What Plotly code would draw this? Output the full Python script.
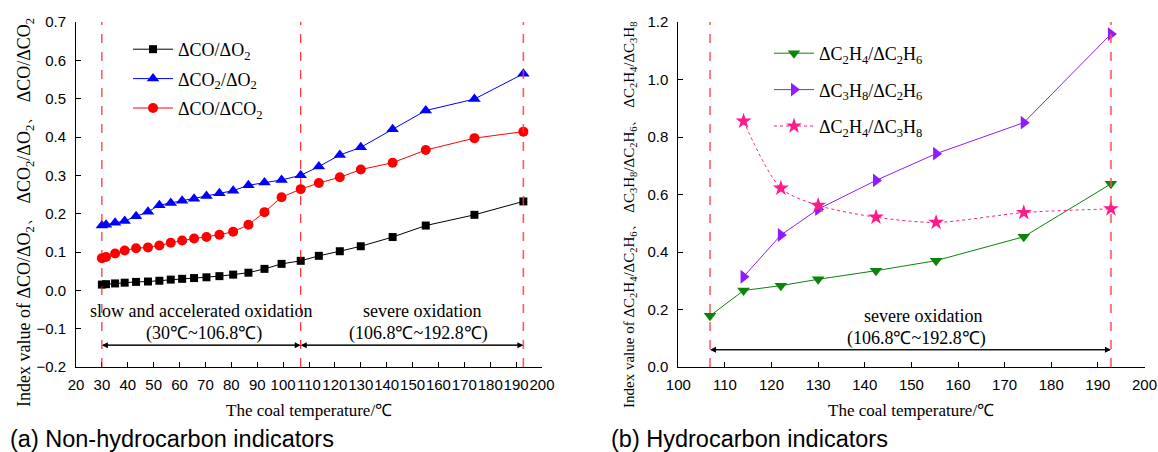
import plotly.graph_objects as go

# ---- data: (a) non-hydrocarbon indicators ----
temp_a = [30.0, 31.6, 35.1, 38.8, 43.2, 47.8, 52.2, 56.6, 61.0, 65.6, 70.4, 75.4,
          80.7, 86.6, 92.8, 99.4, 106.8, 113.8, 121.9, 130.0, 142.3, 155.1, 173.9, 192.8]
co_o2 = [0.015, 0.016, 0.018, 0.020, 0.022, 0.023, 0.025, 0.028, 0.030, 0.032, 0.034, 0.037,
         0.041, 0.046, 0.056, 0.069, 0.077, 0.090, 0.102, 0.115, 0.139, 0.169, 0.197, 0.232]
co2_o2 = [0.169, 0.171, 0.176, 0.181, 0.193, 0.205, 0.222, 0.228, 0.234, 0.239, 0.246, 0.253,
          0.260, 0.274, 0.281, 0.288, 0.300, 0.323, 0.353, 0.373, 0.420, 0.469, 0.499, 0.565]
co_co2 = [0.084, 0.087, 0.096, 0.104, 0.110, 0.112, 0.117, 0.124, 0.130, 0.135, 0.139, 0.145,
          0.153, 0.171, 0.204, 0.243, 0.264, 0.280, 0.295, 0.315, 0.333, 0.366, 0.397, 0.414]

# ---- data: (b) hydrocarbon indicators ----
temp_b = [106.8, 114.0, 122.0, 130.0, 142.4, 155.3, 174.1, 192.8]
c2h4_c2h6 = [0.178, 0.266, 0.283, 0.305, 0.335, 0.370, 0.453, 0.637]
c3h8_c2h6 = [None, 0.314, 0.459, 0.549, 0.649, 0.742, 0.850, 1.158]
c2h4_c3h8 = [None, 0.855, 0.622, 0.562, 0.521, 0.503, 0.537, 0.550]

# stage boundaries (temperatures, °C)
stage_a = [30.0, 106.8, 192.8]
stage_b = [106.8, 192.8]

W, H = 1158, 452
SERIF = "Liberation Serif, Times New Roman, serif"
SANS = "Liberation Sans, Arial, sans-serif"


def px_x(p):
    return p / W


def px_y(p):
    return 1 - p / H


dom_ya = [px_y(367), px_y(22)]
dom_xa = [px_x(76), px_x(542)]
dom_xb = [px_x(678.3), px_x(1144.5)]

fig = go.Figure()

# (a) traces
fig.add_trace(go.Scatter(
    x=temp_a, y=co_o2, mode="lines+markers", name="ΔCO/ΔO<sub>2</sub>",
    line=dict(color="black", width=1), marker=dict(symbol="square", size=8, color="black"),
    xaxis="x", yaxis="y", legend="legend", legendgroup="a1"))
fig.add_trace(go.Scatter(
    x=temp_a, y=co2_o2, mode="lines+markers", name="ΔCO<sub>2</sub>/ΔO<sub>2</sub>",
    line=dict(color="#0000ff", width=1), marker=dict(symbol="triangle-up", size=11, color="#0000ff"),
    xaxis="x", yaxis="y", legend="legend", legendgroup="a2"))
fig.add_trace(go.Scatter(
    x=temp_a, y=co_co2, mode="lines+markers", name="ΔCO/ΔCO<sub>2</sub>",
    line=dict(color="#ff0000", width=1), marker=dict(symbol="circle", size=10, color="#ff0000"),
    xaxis="x", yaxis="y", legend="legend", legendgroup="a3"))

# (b) traces
fig.add_trace(go.Scatter(
    x=temp_b, y=c2h4_c2h6, mode="lines+markers", name="ΔC<sub>2</sub>H<sub>4</sub>/ΔC<sub>2</sub>H<sub>6</sub>",
    line=dict(color="#0b840b", width=1), marker=dict(symbol="triangle-down", size=11, color="#0b840b"),
    xaxis="x2", yaxis="y2", legend="legend2", legendgroup="b1"))
fig.add_trace(go.Scatter(
    x=temp_b, y=c3h8_c2h6, mode="lines+markers", name="ΔC<sub>3</sub>H<sub>8</sub>/ΔC<sub>2</sub>H<sub>6</sub>",
    line=dict(color="#8f1cff", width=1), marker=dict(symbol="triangle-right", size=12, color="#8f1cff"),
    xaxis="x2", yaxis="y2", legend="legend2", legendgroup="b2"))
fig.add_trace(go.Scatter(
    x=temp_b, y=c2h4_c3h8, mode="lines+markers", name="ΔC<sub>2</sub>H<sub>4</sub>/ΔC<sub>3</sub>H<sub>8</sub>",
    line=dict(color="#ff1a8c", width=1, dash="dot", shape="spline", smoothing=0.8),
    marker=dict(symbol="star", size=12, color="#ff1a8c"),
    xaxis="x2", yaxis="y2", legend="legend2", legendgroup="b3"))

tickfont = dict(family=SANS, size=15, color="black")
base_axis = dict(showline=True, linecolor="black", linewidth=1, ticks="inside", ticklen=5,
                 tickcolor="black", showgrid=False, zeroline=False, tickfont=tickfont,
                 automargin=False, tickangle=0)
mirror_axis = dict(showline=True, linecolor="black", linewidth=1, ticks="inside", ticklen=4,
                   tickcolor="black", showgrid=False, zeroline=False, showticklabels=False,
                   automargin=False)

fig.update_layout(
    width=W, height=H, margin=dict(l=0, r=0, t=0, b=0),
    paper_bgcolor="white", plot_bgcolor="white", showlegend=True,
    xaxis=dict(base_axis, domain=dom_xa, range=[20, 200], dtick=10, tick0=20, anchor="y",
               ticklabelstandoff=4),
    yaxis=dict(base_axis, domain=dom_ya, range=[-0.2, 0.7], dtick=0.1, tickformat=".1f", anchor="x",
               ticklabelstandoff=6),
    xaxis3=dict(mirror_axis, overlaying="x", matches="x", side="top", anchor="y", dtick=5, tick0=20),
    yaxis3=dict(mirror_axis, overlaying="y", matches="y", side="right", anchor="x", dtick=0.05),
    xaxis2=dict(base_axis, domain=dom_xb, range=[100, 200], dtick=10, tick0=100, anchor="y2",
                ticklabelstandoff=4),
    yaxis2=dict(base_axis, domain=dom_ya, range=[0, 1.2], dtick=0.2, tickformat=".1f", anchor="x2",
                ticklabelstandoff=6),
    xaxis4=dict(mirror_axis, overlaying="x2", matches="x2", side="top", anchor="y2", dtick=5, tick0=100),
    yaxis4=dict(mirror_axis, overlaying="y2", matches="y2", side="right", anchor="x2", dtick=0.1),
    legend=dict(x=px_x(128), y=px_y(31), xanchor="left", yanchor="top", bgcolor="rgba(0,0,0,0)",
                font=dict(family=SERIF, size=18, color="black"), tracegroupgap=3,
                itemwidth=40, traceorder="grouped"),
    legend2=dict(x=px_x(769), y=px_y(35), xanchor="left", yanchor="top", bgcolor="rgba(0,0,0,0)",
                 font=dict(family=SERIF, size=18, color="black"), tracegroupgap=10,
                 itemwidth=40, traceorder="grouped"),
)

# stage boundary lines
for t in stage_a:
    wid = 1.6 if t == stage_a[-1] else 1
    col = "rgba(255,60,60,0.85)" if t == stage_a[-1] else "#ff0000"
    fig.add_shape(type="line", xref="x", yref="y", x0=t, x1=t, y0=-0.2, y1=0.7,
                  line=dict(color=col, width=wid, dash="dash"))
for t in stage_b:
    wid = 2.2 if t == stage_b[-1] else 1
    col = "rgba(255,80,80,0.75)" if t == stage_b[-1] else "#ff0000"
    fig.add_shape(type="line", xref="x2", yref="y2", x0=t, x1=t, y0=0, y1=1.2,
                  line=dict(color=col, width=wid, dash="dash"))

ann_font = dict(family=SERIF, size=18, color="black")


def double_arrow(xref, yref, x0, x1, y):
    for a, b in ((x0, x1), (x1, x0)):
        fig.add_annotation(x=b, y=y, ax=a, ay=y, xref=xref, yref=yref, axref=xref, ayref=yref,
                           text="", showarrow=True, arrowhead=2, arrowsize=1.2, arrowwidth=1,
                           arrowcolor="black", standoff=0, startstandoff=0)


def label(x, y, text, xref, yref, font, **kw):
    opts = dict(xanchor="center", yanchor="middle")
    opts.update(kw)
    fig.add_annotation(x=x, y=y, xref=xref, yref=yref, text=text, showarrow=False,
                       font=font, **opts)


# stage labels and arrows, panel (a)
double_arrow("x", "y", stage_a[0], stage_a[1], -0.143)
double_arrow("x", "y", stage_a[1], stage_a[2], -0.143)
label(68.2, -0.053, "slow and accelerated oxidation", "x", "y", ann_font)
label(69.6, -0.112, "(30℃~106.8℃)", "x", "y", ann_font)
label(153.6, -0.053, "severe oxidation", "x", "y", ann_font)
label(152.3, -0.112, "(106.8℃~192.8℃)", "x", "y", ann_font)

# stage labels and arrow, panel (b)
double_arrow("x2", "y2", stage_b[0], stage_b[1], 0.06)
label(152.4, 0.177, "severe oxidation", "x2", "y2", ann_font)
label(151.2, 0.099, "(106.8℃~192.8℃)", "x2", "y2", ann_font)

# axis titles
title_font = dict(family=SERIF, size=17, color="black")
label(px_x(309), px_y(410), "The coal temperature/℃", "paper", "paper", title_font)
label(px_x(911.4), px_y(410), "The coal temperature/℃", "paper", "paper", title_font)
label(px_x(25), px_y(213),
      "Index value of ΔCO/ΔO<sub>2</sub>、 ΔCO<sub>2</sub>/ΔO<sub>2</sub>、 ΔCO/ΔCO<sub>2</sub>",
      "paper", "paper", dict(family=SERIF, size=18, color="black"), textangle=-90)
label(px_x(630), px_y(215),
      "Index value of ΔC<sub>2</sub>H<sub>4</sub>/ΔC<sub>2</sub>H<sub>6</sub>、 "
      "ΔC<sub>3</sub>H<sub>8</sub>/ΔC<sub>2</sub>H<sub>6</sub>、 "
      "ΔC<sub>2</sub>H<sub>4</sub>/ΔC<sub>3</sub>H<sub>8</sub>",
      "paper", "paper", dict(family=SERIF, size=15, color="black"), textangle=-90)

# panel captions
cap_font = dict(family=SANS, size=23.5, color="black")
label(px_x(8), px_y(439), "(a) Non-hydrocarbon indicators", "paper", "paper", cap_font,
      xanchor="left")
label(px_x(609), px_y(439), "(b) Hydrocarbon indicators", "paper", "paper", cap_font,
      xanchor="left")

fig.write_html("out.html")
